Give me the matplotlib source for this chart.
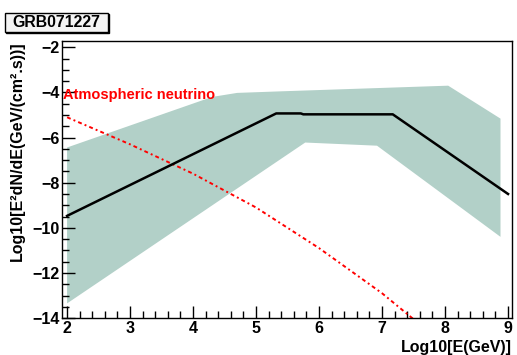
import matplotlib.pyplot as plt
from matplotlib.patches import FancyBboxPatch
from matplotlib.ticker import MultipleLocator

plt.rcParams['font.family'] = ['Liberation Sans', 'DejaVu Sans']
plt.rcParams['font.weight'] = 'bold'

# GRB model spectrum (log10 E vs log10 E^2 dN/dE)
grb_x = [2.0, 5.32, 5.71, 5.75, 7.17, 9.0]
grb_y = [-9.47, -4.93, -4.93, -4.97, -4.97, -8.5]

# uncertainty band
band_up_x = [2.0, 4.3, 4.7, 5.4, 8.05, 8.88]
band_up_y = [-6.44, -4.2, -4.02, -3.95, -3.7, -5.16]
band_lo_x = [2.0, 5.78, 6.92, 8.88]
band_lo_y = [-13.35, -6.22, -6.36, -10.4]

# atmospheric neutrino background
atm_x = [2.0, 3.0, 4.0, 5.0, 6.0, 7.0, 7.5]
atm_y = [-5.1, -6.3, -7.6, -9.1, -10.9, -12.9, -14.05]

fig = plt.figure(figsize=(5.17, 3.55), dpi=100)
ax = fig.add_axes([0.12, 0.104, 0.870, 0.7805])

poly_x = band_up_x + band_lo_x[::-1]
poly_y = band_up_y + band_lo_y[::-1]
ax.fill(poly_x, poly_y, color='#b2d0c8', lw=0, zorder=1)

ax.plot(grb_x, grb_y, color='black', lw=1.8, zorder=3)
ax.plot(atm_x, atm_y, color='red', lw=1.4, ls=(0, (2, 1.6, 1, 1.6)), zorder=2)

ax.text(1.94, -4.1, 'Atmospheric neutrino', color='red', fontsize=10.5,
        fontweight='bold', ha='left', va='center', zorder=4)

ax.set_xlim(1.92, 9.06)
ax.set_ylim(-14, -1.72)
ax.xaxis.set_major_locator(MultipleLocator(1))
ax.xaxis.set_minor_locator(MultipleLocator(0.2))
ax.yaxis.set_major_locator(MultipleLocator(2))
ax.yaxis.set_minor_locator(MultipleLocator(0.5))
ax.tick_params(which='both', direction='in', top=False, right=False,
               labelsize=11.5, pad=2, width=1)
ax.tick_params(which='major', length=9)
ax.tick_params(which='minor', length=5)
for lbl in ax.get_xticklabels() + ax.get_yticklabels():
    lbl.set_fontweight('bold')
for sp in ax.spines.values():
    sp.set_linewidth(1)

ax.set_xlabel('Log10[E(GeV)]', fontsize=11.5, fontweight='bold', loc='right',
              labelpad=3)
ax.set_ylabel('Log10[E²dN/dE(GeV/(cm².s))]',
              fontsize=11.5, fontweight='bold', loc='top', labelpad=5)

# title box with shadow, ROOT style
shadow = FancyBboxPatch((0.0125, 0.906), 0.199, 0.0535, boxstyle='square,pad=0',
                        transform=fig.transFigure, facecolor='black',
                        edgecolor='black', zorder=5)
box = FancyBboxPatch((0.0097, 0.910), 0.199, 0.0535, boxstyle='square,pad=0',
                     transform=fig.transFigure, facecolor='#f4f4f4',
                     edgecolor='black', lw=1, zorder=6)
fig.patches.extend([shadow, box])
fig.text(0.109, 0.936, 'GRB071227', fontsize=11.4, fontweight='bold',
         ha='center', va='center', zorder=7)

fig.savefig('out.png', dpi=100)
